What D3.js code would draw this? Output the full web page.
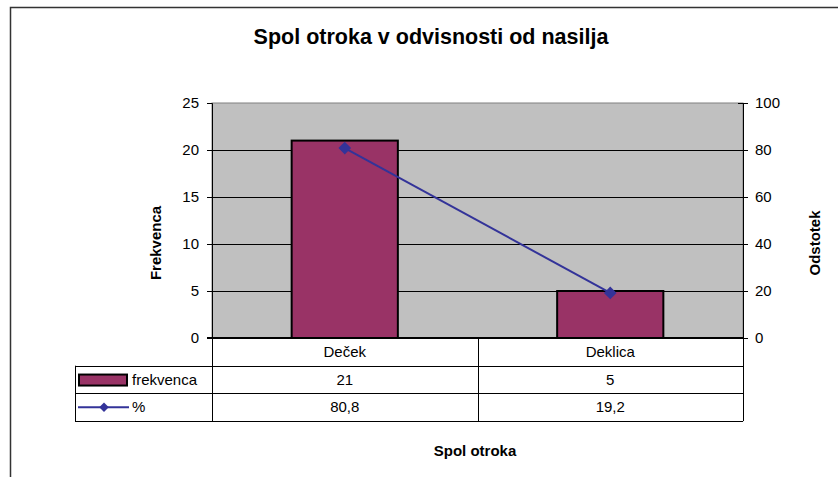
<!DOCTYPE html>
<html>
<head>
<meta charset="utf-8">
<script src="https://cdn.jsdelivr.net/npm/d3@7"></script>
<style>
  body { margin: 0; background: #fff; }
  svg text { font-family: Arial, "Liberation Sans", sans-serif; fill: #000; }
</style>
</head>
<body>
<div id="chart"></div>
<script>
// data
const categories = ["Deček", "Deklica"]
const frekvenca = [21, 5]
const odstotek = [80.8, 19.2]
const odstotekLabels = ["80,8", "19,2"]
const leftTicks = [0, 5, 10, 15, 20, 25]
const rightTicks = [0, 20, 40, 60, 80, 100]

const width = 838
const height = 477
const plot = { left: 212, right: 743, top: 103, bottom: 338 }
const rowH = 27.7
const fontSize = 15

const svg = d3.select("#chart").append("svg")
  .attr("width", width)
  .attr("height", height)

// outer chart frame (cut off on right and bottom)
svg.append("path")
  .attr("d", `M10.5,${height} V7.5 H${width}`)
  .attr("fill", "none")
  .attr("stroke", "#333")
  .attr("stroke-width", 1.5)

// scales
const xScale = d3.scaleBand()
  .domain(categories)
  .range([plot.left, plot.right])
  .paddingInner(0.6)
  .paddingOuter(0.3)

const yLeft = d3.scaleLinear().domain([0, 25]).range([plot.bottom, plot.top])
const yRight = d3.scaleLinear().domain([0, 100]).range([plot.bottom, plot.top])

// plot background
svg.append("rect")
  .attr("x", plot.left).attr("y", plot.top)
  .attr("width", plot.right - plot.left).attr("height", plot.bottom - plot.top)
  .attr("fill", "#c0c0c0")
  .attr("stroke", "#808080")
  .attr("stroke-width", 1)

// gridlines
svg.append("g").selectAll("line")
  .data(leftTicks.filter(d => d > 0 && d < 25))
  .join("line")
    .attr("x1", plot.left).attr("x2", plot.right)
    .attr("y1", d => Math.round(yLeft(d)) + 0.5).attr("y2", d => Math.round(yLeft(d)) + 0.5)
    .attr("stroke", "#000")

// left axis
const leftAxis = svg.append("g")
  .attr("transform", `translate(${plot.left},0)`)
  .call(d3.axisLeft(yLeft).tickValues(leftTicks).tickSize(5).tickPadding(8))
leftAxis.select(".domain").attr("stroke", "#000")
leftAxis.selectAll("text").attr("font-size", fontSize)

// right axis, ticks cross the line
const rightAxis = svg.append("g")
  .attr("transform", `translate(${plot.right},0)`)
  .call(d3.axisRight(yRight).tickValues(rightTicks).tickSize(5).tickPadding(7))
rightAxis.select(".domain").attr("stroke", "#000")
rightAxis.selectAll(".tick line").attr("x1", -5)
rightAxis.selectAll("text").attr("font-size", fontSize)

// bars
svg.append("g").selectAll("rect")
  .data(categories)
  .join("rect")
    .attr("x", d => xScale(d))
    .attr("y", (d, i) => yLeft(frekvenca[i]))
    .attr("width", xScale.bandwidth())
    .attr("height", (d, i) => yLeft(0) - yLeft(frekvenca[i]))
    .attr("fill", "#993366")
    .attr("stroke", "#000")
    .attr("stroke-width", 2)

// x axis line
svg.append("line")
  .attr("x1", plot.left - 5).attr("x2", plot.right)
  .attr("y1", plot.bottom).attr("y2", plot.bottom)
  .attr("stroke", "#000").attr("stroke-width", 2)

// percentage line
const cx = d => xScale(d) + xScale.bandwidth() / 2
const line = d3.line()
  .x(d => cx(d))
  .y((d, i) => yRight(odstotek[i]))
svg.append("path")
  .datum(categories)
  .attr("d", line)
  .attr("fill", "none")
  .attr("stroke", "#333399")
  .attr("stroke-width", 2)

const diamond = d3.symbol().type(d3.symbolSquare).size(80)
svg.append("g").selectAll("path")
  .data(categories)
  .join("path")
    .attr("d", diamond)
    .attr("transform", (d, i) => `translate(${cx(d)},${yRight(odstotek[i])}) rotate(45)`)
    .attr("fill", "#333399")

// data table
const table = svg.append("g")
const rowsY = [plot.bottom, plot.bottom + rowH, plot.bottom + 2 * rowH, plot.bottom + 3 * rowH]
const legendLeft = 75
const colEdges = categories.map((d, i) => plot.left + i * xScale.step()).concat([plot.right])

table.selectAll(".hline")
  .data(rowsY.slice(1))
  .join("line")
    .attr("x1", legendLeft).attr("x2", plot.right)
    .attr("y1", d => Math.round(d) + 0.5).attr("y2", d => Math.round(d) + 0.5)
    .attr("stroke", "#000")
table.selectAll(".vline")
  .data(colEdges)
  .join("line")
    .attr("x1", d => Math.round(d) + 0.5).attr("x2", d => Math.round(d) + 0.5)
    .attr("y1", plot.bottom).attr("y2", rowsY[3])
    .attr("stroke", "#000")
table.append("line")
  .attr("x1", legendLeft + 0.5).attr("x2", legendLeft + 0.5)
  .attr("y1", rowsY[1]).attr("y2", rowsY[3])
  .attr("stroke", "#000")

const rowText = [categories, frekvenca.map(String), odstotekLabels]
rowText.forEach((vals, r) => {
  table.selectAll(".r" + r)
    .data(vals)
    .join("text")
      .attr("x", (d, i) => cx(categories[i]))
      .attr("y", rowsY[r] + rowH / 2 + 5)
      .attr("text-anchor", "middle")
      .attr("font-size", fontSize)
      .text(d => d)
})

// legend keys inside the table
const key1Y = rowsY[1] + rowH / 2
table.append("rect")
  .attr("x", 79).attr("y", key1Y - 5)
  .attr("width", 48).attr("height", 11)
  .attr("fill", "#993366")
  .attr("stroke", "#000").attr("stroke-width", 2)
table.append("text")
  .attr("x", 132).attr("y", key1Y + 5)
  .attr("font-size", fontSize)
  .text("frekvenca")

const key2Y = rowsY[2] + rowH / 2
table.append("line")
  .attr("x1", 78).attr("x2", 129)
  .attr("y1", key2Y).attr("y2", key2Y)
  .attr("stroke", "#333399").attr("stroke-width", 2)
table.append("path")
  .attr("d", d3.symbol().type(d3.symbolSquare).size(45))
  .attr("transform", `translate(104,${key2Y}) rotate(45)`)
  .attr("fill", "#333399")
table.append("text")
  .attr("x", 132).attr("y", key2Y + 5)
  .attr("font-size", fontSize)
  .text("%")

// titles
svg.append("text")
  .attr("x", 431).attr("y", 44)
  .attr("text-anchor", "middle")
  .attr("font-size", 21.5).attr("font-weight", "bold")
  .text("Spol otroka v odvisnosti od nasilja")

svg.append("text")
  .attr("transform", "translate(161,243) rotate(-90)")
  .attr("text-anchor", "middle")
  .attr("font-size", fontSize).attr("font-weight", "bold")
  .text("Frekvenca")

svg.append("text")
  .attr("transform", "translate(820,243) rotate(-90)")
  .attr("text-anchor", "middle")
  .attr("font-size", fontSize).attr("font-weight", "bold")
  .text("Odstotek")

svg.append("text")
  .attr("x", 475).attr("y", 456)
  .attr("text-anchor", "middle")
  .attr("font-size", fontSize).attr("font-weight", "bold")
  .text("Spol otroka")
</script>
</body>
</html>
